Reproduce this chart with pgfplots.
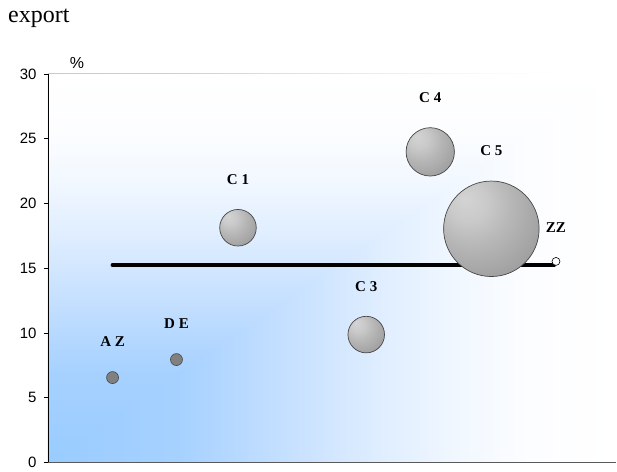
\documentclass[border=0pt]{standalone}
\usepackage{pgfplots}
\pgfplotsset{compat=1.18}
\usepackage{fontspec}
\setmainfont{Liberation Serif}
\newfontfamily\arial{Liberation Sans}
\definecolor{bg0}{HTML}{99CCFF}
\definecolor{bg1}{HTML}{A6D1FF}
\definecolor{bg2}{HTML}{C4DFFF}
\definecolor{bg3}{HTML}{E0EEFF}
\definecolor{bg4}{HTML}{F2F8FF}
\definecolor{bg5}{HTML}{FCFDFF}
\pgfdeclarehorizontalshading{hsh}{100bp}{color(0bp)=(bg0); color(25bp)=(bg0); color(36.5bp)=(bg1); color(45.5bp)=(bg2); color(54.5bp)=(bg3); color(61.5bp)=(bg4); color(67.5bp)=(bg5); color(75bp)=(white); color(100bp)=(white)}
\pgfdeclareverticalshading{vsh}{100bp}{color(0bp)=(bg0); color(25bp)=(bg0); color(36.5bp)=(bg1); color(45.5bp)=(bg2); color(54.5bp)=(bg3); color(61.5bp)=(bg4); color(67.5bp)=(bg5); color(75bp)=(white); color(100bp)=(white)}
\pgfdeclareradialshading{bubsh}{\pgfpoint{-14bp}{16bp}}{color(0bp)=(black!17); color(10bp)=(black!21); color(20bp)=(black!28); color(30bp)=(black!34); color(40bp)=(black!40); color(50bp)=(black!46); color(60bp)=(black!50); color(75bp)=(black!53)}
\pgfdeclareplotmark{bub}{\pgfpathcircle{\pgfpointorigin}{\pgfplotmarksize}\pgfshadepath{bubsh}{0}\pgfusepath{stroke}}

\begin{document}
\begin{tikzpicture}
\begin{axis}[
  scale only axis, width=569pt, height=389pt,
  xmin=0, xmax=569, ymin=0, ymax=30,
  xtick=\empty, ytick={0,5,...,30},
  axis x line=bottom, axis y line=left,
  x axis line style={-, draw=black!65, line width=1.6pt},
  y axis line style={-, draw=black, line width=0.8pt},
  tick align=outside, major tick length=4pt,
  ytick style={black, line width=0.6pt},
  /pgf/number format/assume math mode=true,
  yticklabel style={font=\arial\fontsize{15}{18}\selectfont, xshift=-4pt},
  axis on top,
  clip=false,
  point meta=explicit symbolic,
  nodes near coords style={font=\bfseries\fontsize{15}{18}\selectfont, anchor=center},
]
% background: rectangular gradient from the lower left corner
\path[shading=hsh] (rel axis cs:0,0) rectangle (rel axis cs:1,1);
\path[shading=vsh] (rel axis cs:0,0) -- (rel axis cs:1,1) -- (rel axis cs:0,1) -- cycle;
\addplot[black, line width=3.5pt, line cap=round, nodes near coords={}] coordinates {(64.5,15.23) (507,15.23)};
% small points
\addplot[only marks, mark=*, mark size=6pt,
  mark options={fill=black!50, draw=black!72, line width=0.6pt},
  nodes near coords, nodes near coords style={yshift=36pt}]
  coordinates {(64.7,6.55) [A Z] (128.7,7.94) [D E]};
% bubbles
\addplot[only marks, mark=bub, mark size=18.3pt, mark options={draw=black!72, line width=0.7pt},
  nodes near coords, nodes near coords style={yshift=48.3pt}]
  coordinates {(190.3,18.12) [C 1]};
\addplot[only marks, mark=bub, mark size=18.3pt, mark options={draw=black!72, line width=0.7pt},
  nodes near coords, nodes near coords style={yshift=48.3pt}]
  coordinates {(318.7,9.87) [C 3]};
\addplot[only marks, mark=bub, mark size=24.2pt, mark options={draw=black!72, line width=0.7pt},
  nodes near coords, nodes near coords style={yshift=54.2pt}]
  coordinates {(382.8,23.98) [C 4]};
\addplot[only marks, mark=bub, mark size=47.8pt, mark options={draw=black!72, line width=0.7pt},
  nodes near coords, nodes near coords style={yshift=77.8pt}]
  coordinates {(444.0,18.04) [C 5]};
% ZZ
\addplot[only marks, mark=*, mark size=4pt,
  mark options={fill=white, draw=black, line width=0.6pt},
  nodes near coords, nodes near coords style={yshift=34pt}]
  coordinates {(508.7,15.52) [ZZ]};
\node[anchor=base west, inner sep=0pt, font=\fontsize{24}{28}\selectfont, xshift=-40pt, yshift=51pt] at (rel axis cs:0,1) {export};
\node[anchor=center, inner sep=0pt, font=\arial\fontsize{16}{19}\selectfont, xshift=29pt, yshift=11pt] at (rel axis cs:0,1) {\%};
\path ([xshift=-48pt,yshift=-7pt]rel axis cs:0,0) rectangle ([yshift=74pt]rel axis cs:1,1);
\end{axis}
\end{tikzpicture}
\end{document}
